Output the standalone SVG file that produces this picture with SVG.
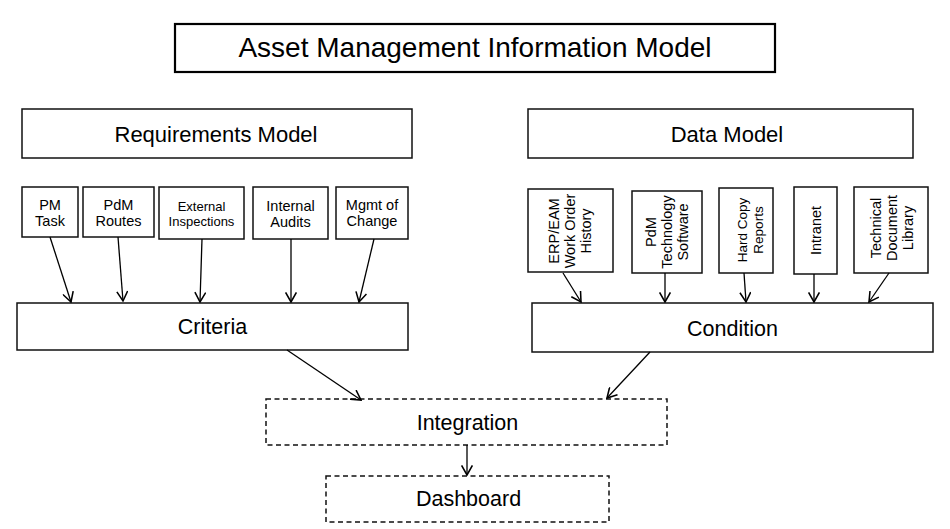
<svg xmlns="http://www.w3.org/2000/svg" width="950" height="529" viewBox="0 0 950 529">
<defs>
<marker id="arr" markerUnits="userSpaceOnUse" markerWidth="12" markerHeight="12" refX="9" refY="5" orient="auto" viewBox="0 0 10 10">
<path d="M1,0.5 L9,5 L1,9.5" fill="none" stroke="#000" stroke-width="1.3"/>
</marker>
<style>
text{font-family:"Liberation Sans",Arial,sans-serif;fill:#000;text-anchor:middle}
.box{fill:#fff;stroke:#111;stroke-width:1.5}
.thick{fill:#fff;stroke:#000;stroke-width:2.2}
.dash{fill:#fff;stroke:#111;stroke-width:1.5;stroke-dasharray:5,3.5}
.big{font-size:21.5px}
.sm{font-size:14.5px}
.xs{font-size:13px}
.conn line{stroke:#000;stroke-width:1.3;marker-end:url(#arr)}
</style>
</defs>
<rect width="950" height="529" fill="#fff"/>
<g id="title"><rect class="thick" x="175" y="24" width="600" height="48"/><text x="475" y="57" style="font-size:28px">Asset Management Information Model</text></g>
<g id="req-model"><rect class="box" x="22" y="109" width="390" height="49"/><text class="big" x="216" y="142" style="font-size:22px">Requirements Model</text></g>
<g id="data-model"><rect class="box" x="528" y="109" width="385" height="49"/><text class="big" x="727" y="142" style="font-size:22px">Data Model</text></g>

<g id="pm-task"><rect class="box" x="22" y="187" width="56" height="50"/><text class="sm" x="50" y="210">PM</text><text class="sm" x="50" y="225.5">Task</text></g>
<g id="pdm-routes"><rect class="box" x="83" y="187" width="71" height="50"/><text class="sm" x="118.5" y="210">PdM</text><text class="sm" x="118.5" y="226">Routes</text></g>
<g id="ext-insp"><rect class="box" x="159" y="187" width="85" height="52"/><text class="xs" x="201.5" y="211">External</text><text class="xs" x="201.5" y="225.5">Inspections</text></g>
<g id="int-audits"><rect class="box" x="253" y="187" width="75" height="52"/><text class="sm" x="290.5" y="211">Internal</text><text class="sm" x="290.5" y="226.5">Audits</text></g>
<g id="moc"><rect class="box" x="336" y="187" width="72" height="52"/><text class="sm" x="372" y="210">Mgmt of</text><text class="sm" x="372" y="225.5">Change</text></g>

<g id="erp"><rect class="box" x="528" y="189" width="85" height="83"/>
<g transform="translate(0,231)"><text class="sm" transform="translate(559,0) rotate(-90)">ERP/EAM</text><text class="sm" transform="translate(575,0) rotate(-90)">Work Order</text><text class="sm" transform="translate(591,0) rotate(-90)">History</text></g></g>
<g id="pdm-tech"><rect class="box" x="632" y="191" width="70" height="82"/>
<g transform="translate(0,232)"><text class="sm" transform="translate(656,0) rotate(-90)">PdM</text><text class="sm" transform="translate(672,0) rotate(-90)">Technology</text><text class="sm" transform="translate(688,0) rotate(-90)">Software</text></g></g>
<g id="hardcopy"><rect class="box" x="719" y="188" width="54" height="85"/>
<g transform="translate(0,230)"><text class="sm" style="font-size:13.5px" transform="translate(747,0) rotate(-90)">Hard Copy</text><text class="sm" style="font-size:13.5px" transform="translate(763,0) rotate(-90)">Reports</text></g></g>
<g id="intranet"><rect class="box" x="794" y="187" width="43" height="87"/>
<text class="sm" transform="translate(821,230.5) rotate(-90)">Intranet</text></g>
<g id="techdoc"><rect class="box" x="854" y="187" width="74" height="86"/>
<g transform="translate(0,228)"><text class="sm" transform="translate(881,0) rotate(-90)">Technical</text><text class="sm" transform="translate(897,0) rotate(-90)">Document</text><text class="sm" transform="translate(913,0) rotate(-90)">Library</text></g></g>

<g id="criteria"><rect class="box" x="17" y="303" width="391" height="47"/><text class="big" x="212.5" y="334">Criteria</text></g>
<g id="condition"><rect class="box" x="532" y="303" width="401" height="49"/><text class="big" x="732.5" y="336">Condition</text></g>
<g id="integration"><rect class="dash" x="266" y="399" width="401" height="46"/><text class="big" x="467.5" y="430">Integration</text></g>
<g id="dashboard"><rect class="dash" x="326" y="476" width="283" height="46"/><text class="big" x="468.5" y="506">Dashboard</text></g>

<g id="connectors" class="conn">
<line x1="50" y1="237" x2="71" y2="302"/>
<line x1="118" y1="237" x2="123" y2="301"/>
<line x1="202" y1="239" x2="200" y2="302"/>
<line x1="291" y1="239" x2="291" y2="302"/>
<line x1="374" y1="239" x2="359" y2="302"/>
<line x1="563" y1="273" x2="581" y2="302"/>
<line x1="665" y1="273" x2="665" y2="302"/>
<line x1="744" y1="273" x2="746" y2="302"/>
<line x1="814" y1="274" x2="814" y2="302"/>
<line x1="889" y1="273" x2="869" y2="302"/>
<line x1="287" y1="350" x2="361" y2="400"/>
<line x1="650" y1="352" x2="607" y2="398"/>
<line x1="467" y1="445" x2="467" y2="475"/>
</g>
</svg>
